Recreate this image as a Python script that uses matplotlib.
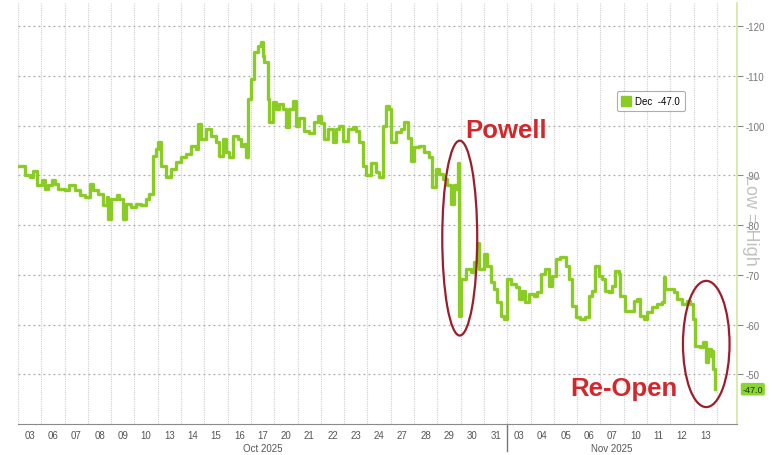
import numpy as np
import matplotlib
matplotlib.use("Agg")
import matplotlib.pyplot as plt
from matplotlib.patches import Ellipse
from matplotlib.lines import Line2D
import matplotlib.transforms as mtransforms

plt.rcParams['font.family'] = ['Liberation Sans', 'DejaVu Sans']
plt.rcParams['axes.unicode_minus'] = False

# trading days shown on the x axis
day_labels = ['03', '06', '07', '08', '09', '10', '13', '14', '15', '16', '17',
              '20', '21', '22', '23', '24', '27', '28', '29', '30', '31',
              '03', '04', '05', '06', '07', '10', '11', '12', '13']
month_labels = ['Oct 2025', 'Nov 2025']
month_centers = [10, 25]

# position in trading days (0 = Oct 03)
t = [-0.48, -0.21, 0.00, 0.16, 0.30, 0.51, 0.64, 0.80, 0.94, 1.07, 1.23, 1.50,
     1.71, 1.93, 2.14, 2.36, 2.57, 2.73, 2.94, 3.16, 3.30, 3.37, 3.51, 3.73,
     3.85, 4.01, 4.15, 4.37, 4.58, 4.80, 5.01, 5.14, 5.30, 5.44, 5.51, 5.65,
     5.87, 6.08, 6.30, 6.51, 6.72, 6.94, 7.15, 7.22, 7.37, 7.58, 7.79, 8.01,
     8.14, 8.30, 8.44, 8.57, 8.72, 8.94, 9.08, 9.21, 9.29, 9.38, 9.51, 9.64,
     9.79, 9.94, 10.01, 10.06, 10.22, 10.28, 10.44, 10.58, 10.71, 10.87, 11.01,
     11.13, 11.29, 11.43, 11.56, 11.78, 11.99, 12.21, 12.36, 12.51, 12.63,
     12.79, 13.01, 13.15, 13.28, 13.43, 13.65, 13.86, 14.00, 14.13, 14.29,
     14.43, 14.65, 14.86, 14.99, 15.15, 15.29, 15.43, 15.53, 15.72, 15.93,
     16.07, 16.22, 16.36, 16.50, 16.72, 16.93, 17.14, 17.29, 17.43, 17.57,
     17.72, 17.93, 18.07, 18.21, 18.33, 18.39, 18.43, 18.50, 18.72, 18.93,
     19.07, 19.22, 19.28, 19.50, 19.64, 19.79, 19.93, 20.07, 20.21, 20.36,
     20.50, 20.64, 20.86, 21.00, 21.14, 21.28, 21.42, 21.64, 21.77, 21.93,
     22.14, 22.28, 22.43, 22.57, 22.78, 23.00, 23.14, 23.28, 23.43, 23.64,
     23.85, 24.00, 24.14, 24.28, 24.43, 24.57, 24.71, 24.85, 25.00, 25.14,
     25.28, 25.35, 25.57, 25.78, 25.92, 26.07, 26.21, 26.35, 26.50, 26.71,
     26.92, 27.14, 27.21, 27.28, 27.49, 27.64, 27.78, 27.99, 28.21, 28.35,
     28.49, 28.57, 28.78, 28.92, 29.04, 29.13, 29.24, 29.28, 29.35, 29.42]

dec = [-92.0, -90.0, -89.7, -91.0, -88.0, -89.0, -87.3, -88.0, -89.0, -88.3,
       -87.3, -87.0, -88.0, -87.0, -86.0, -85.7, -88.3, -87.0, -86.3, -84.0,
       -85.7, -81.2, -85.3, -86.0, -85.3, -81.2, -84.3, -83.6, -84.3, -84.0,
       -85.3, -86.3, -94.0, -95.3, -96.7, -92.0, -89.6, -91.3, -92.7, -93.7,
       -94.3, -96.0, -95.3, -100.4, -97.3, -99.4, -98.0, -96.7, -94.0, -97.3,
       -94.7, -93.7, -98.0, -97.3, -96.0, -96.3, -93.7, -105.4, -109.4, -114.8,
       -116.1, -116.8, -114.1, -112.8, -105.4, -100.7, -104.8, -103.4, -104.4,
       -103.4, -99.7, -103.4, -105.0, -100.0, -101.5, -99.0, -98.5, -100.7,
       -102.0, -100.5, -97.3, -99.4, -96.7, -99.4, -100.0, -97.0, -99.4, -99.7,
       -99.0, -96.7, -92.0, -90.0, -92.6, -90.6, -89.6, -100.0, -104.0, -103.4,
       -96.7, -98.7, -99.4, -100.7, -97.5, -93.0, -95.7, -96.0, -94.7, -93.7,
       -87.6, -91.3, -90.3, -89.3, -88.0, -84.3, -88.0, -87.3, -92.6, -61.8,
       -69.2, -71.2, -70.5, -72.5, -76.5, -71.2, -74.2, -71.8, -68.5, -67.2,
       -64.5, -61.8, -61.1, -69.2, -68.2, -67.5, -65.2, -66.8, -64.5, -66.2,
       -65.8, -66.5, -70.2, -71.2, -67.8, -69.8, -73.2, -73.5, -71.8, -69.2,
       -63.8, -61.5, -61.1, -61.5, -65.8, -66.8, -71.8, -69.8, -69.2, -66.8,
       -66.5, -67.8, -70.8, -70.2, -65.8, -62.8, -62.8, -64.8, -65.2, -61.8,
       -61.1, -62.5, -63.5, -64.1, -64.5, -69.5, -67.2, -67.2, -66.5, -65.2,
       -64.1, -64.8, -64.1, -61.1, -55.7, -55.4, -56.4, -52.4, -55.1, -53.7,
       -54.7, -51.0, -47.0]

last_value = -47.0
y_ticks = [-120, -110, -100, -90, -80, -70, -60, -50]

green = '#8bcb26'
red_txt = '#d3272b'
red_ring = '#9c1d2b'

fig = plt.figure(figsize=(7.74, 4.56), dpi=100)
ax = fig.add_axes([18 / 774, 31 / 456, 719 / 774, 421 / 456])

ax.plot(t, dec, color=green, lw=2.4, drawstyle='steps-post', zorder=3,
        solid_joinstyle='round')

ax.set_xlim(-0.43, 30.36)
ax.set_ylim(-40, -124.7)

# gridlines at day boundaries, labels at day centres
n = len(day_labels)
ax.set_xticks(np.arange(n + 1) - 0.5)
ax.set_xticklabels([])
ax.set_xticks(np.arange(n), minor=True)
ax.set_xticklabels(day_labels, minor=True, fontsize=7, color='#555555')
ax.tick_params(axis='x', which='both', length=0, pad=4)
ax.xaxis.grid(True, which='major', color='#cfcfcf', lw=0.8, ls=(0, (1, 1)))

ax.yaxis.tick_right()
ax.set_yticks(y_ticks)
ax.set_yticklabels([str(v) for v in y_ticks], fontsize=7, color='#777777')
ax.tick_params(axis='y', length=4, color='#888888', pad=2)
ax.yaxis.grid(True, color='#aaaaaa', lw=0.9, ls=(0, (1.5, 2.5)))

for s in ['top', 'left']:
    ax.spines[s].set_visible(False)
ax.spines['bottom'].set_color('#8a8a8a')
ax.spines['right'].set_color('#d4e6a0')
ax.spines['right'].set_linewidth(1.2)

# month labels and separator
trans = mtransforms.blended_transform_factory(ax.transData, ax.transAxes)
for lab, c in zip(month_labels, month_centers):
    ax.text(c, -0.045, lab, transform=trans, ha='center', va='top',
            fontsize=7, color='#555555')
ax.plot([20.5, 20.5], [0, -0.065], transform=trans, color='#777777',
        lw=1, clip_on=False)

# legend
h = Line2D([], [], marker='s', ls='none', color=green, markersize=7)
leg = ax.legend([h], ['Dec  -47.0'], loc='center', bbox_to_anchor=(0.88, 0.767),
                fontsize=7, frameon=True, fancybox=True, handlelength=1,
                handletextpad=0.4, borderpad=0.5)
leg.get_frame().set_edgecolor('#999999')
leg.get_frame().set_linewidth(0.8)

# last value tag
ax.annotate('-47.0', xy=(1.0, last_value), xycoords=('axes fraction', 'data'),
            xytext=(4, 0), textcoords='offset points', ha='left', va='center',
            fontsize=6.5, color='#1a3300', annotation_clip=False,
            bbox=dict(boxstyle='round,pad=0.2', fc='#8ad630', ec='none'))

fig.text(750 / 774, 1 - 220 / 456, 'Low = High', rotation=270, ha='center',
         va='center', fontsize=13, color='#bbbbbb', alpha=0.9)

# annotations
ax.text(20.45, -99.2, 'Powell', fontsize=18.5, fontweight='bold', color=red_txt,
        ha='center', va='center')
ax.text(25.5, -47.2, 'Re-Open', fontsize=18.5, fontweight='bold', color=red_txt,
        ha='center', va='center', zorder=5)
ax.add_patch(Ellipse((18.46, -77.4), 1.5, 39.2, fill=False, ec=red_ring, lw=1.6, zorder=4))
ax.add_patch(Ellipse((29.04, -56.1), 2.0, 25.4, fill=False, ec=red_ring, lw=1.6, zorder=4))

fig.savefig('out.png', dpi=100)
